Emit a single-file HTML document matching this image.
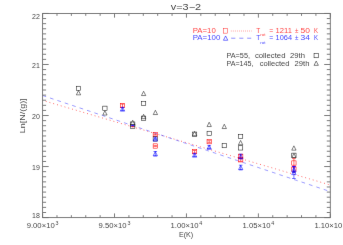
<!DOCTYPE html><html><head><meta charset="utf-8"><title>v=3-2</title><style>html,body{margin:0;padding:0;background:#fff;overflow:hidden}svg text{font-family:"Liberation Sans",sans-serif}svg{opacity:0.999}</style></head><body><svg width="343" height="245" viewBox="0 0 343 245" style="display:block;font-family:'Liberation Sans',sans-serif">
<defs><filter id="b" x="0" y="0" width="343" height="245" filterUnits="userSpaceOnUse"><feConvolveMatrix order="3" kernelMatrix="0.00163 0.03713 0.00163 0.03713 0.84497 0.03713 0.00163 0.03713 0.00163" edgeMode="duplicate" preserveAlpha="false"/></filter></defs>
<rect width="343" height="245" fill="#fff"/>
<g filter="url(#b)">
<line x1="42.6" y1="100.4" x2="330.3" y2="185.0" stroke="#ff3030" stroke-width="0.75" stroke-dasharray="0.9 3.02" stroke-dashoffset="0.67"/>
<line x1="42.6" y1="95.5" x2="330.3" y2="191.6" stroke="#3a3aff" stroke-width="0.5" stroke-dasharray="3.7 4.1"/>
<g stroke="#6e6e6e" stroke-width="0.9" fill="none">
<rect x="42.6" y="13.45" width="287.70" height="204.15"/>
<path d="M42.60 217.6v-4.2M42.60 13.45v4.2M56.98 217.6v-2.4M56.98 13.45v2.4M71.37 217.6v-2.4M71.37 13.45v2.4M85.75 217.6v-2.4M85.75 13.45v2.4M100.14 217.6v-2.4M100.14 13.45v2.4M114.53 217.6v-4.2M114.53 13.45v4.2M128.91 217.6v-2.4M128.91 13.45v2.4M143.29 217.6v-2.4M143.29 13.45v2.4M157.68 217.6v-2.4M157.68 13.45v2.4M172.06 217.6v-2.4M172.06 13.45v2.4M186.45 217.6v-4.2M186.45 13.45v4.2M200.84 217.6v-2.4M200.84 13.45v2.4M215.22 217.6v-2.4M215.22 13.45v2.4M229.60 217.6v-2.4M229.60 13.45v2.4M243.99 217.6v-2.4M243.99 13.45v2.4M258.38 217.6v-4.2M258.38 13.45v4.2M272.76 217.6v-2.4M272.76 13.45v2.4M287.14 217.6v-2.4M287.14 13.45v2.4M301.53 217.6v-2.4M301.53 13.45v2.4M315.92 217.6v-2.4M315.92 13.45v2.4M330.30 217.6v-4.2M330.30 13.45v4.2M42.6 217.60h6.1M330.3 217.60h-6.1M42.6 212.50h3.5M330.3 212.50h-3.5M42.6 207.39h3.5M330.3 207.39h-3.5M42.6 202.29h3.5M330.3 202.29h-3.5M42.6 197.19h3.5M330.3 197.19h-3.5M42.6 192.08h3.5M330.3 192.08h-3.5M42.6 186.98h3.5M330.3 186.98h-3.5M42.6 181.87h3.5M330.3 181.87h-3.5M42.6 176.77h3.5M330.3 176.77h-3.5M42.6 171.67h3.5M330.3 171.67h-3.5M42.6 166.56h6.1M330.3 166.56h-6.1M42.6 161.46h3.5M330.3 161.46h-3.5M42.6 156.36h3.5M330.3 156.36h-3.5M42.6 151.25h3.5M330.3 151.25h-3.5M42.6 146.15h3.5M330.3 146.15h-3.5M42.6 141.04h3.5M330.3 141.04h-3.5M42.6 135.94h3.5M330.3 135.94h-3.5M42.6 130.84h3.5M330.3 130.84h-3.5M42.6 125.73h3.5M330.3 125.73h-3.5M42.6 120.63h3.5M330.3 120.63h-3.5M42.6 115.53h6.1M330.3 115.53h-6.1M42.6 110.42h3.5M330.3 110.42h-3.5M42.6 105.32h3.5M330.3 105.32h-3.5M42.6 100.21h3.5M330.3 100.21h-3.5M42.6 95.11h3.5M330.3 95.11h-3.5M42.6 90.01h3.5M330.3 90.01h-3.5M42.6 84.90h3.5M330.3 84.90h-3.5M42.6 79.80h3.5M330.3 79.80h-3.5M42.6 74.69h3.5M330.3 74.69h-3.5M42.6 69.59h3.5M330.3 69.59h-3.5M42.6 64.49h6.1M330.3 64.49h-6.1M42.6 59.38h3.5M330.3 59.38h-3.5M42.6 54.28h3.5M330.3 54.28h-3.5M42.6 49.18h3.5M330.3 49.18h-3.5M42.6 44.07h3.5M330.3 44.07h-3.5M42.6 38.97h3.5M330.3 38.97h-3.5M42.6 33.86h3.5M330.3 33.86h-3.5M42.6 28.76h3.5M330.3 28.76h-3.5M42.6 23.66h3.5M330.3 23.66h-3.5M42.6 18.55h3.5M330.3 18.55h-3.5M42.6 13.45h6.1M330.3 13.45h-6.1"/>
</g>
<g fill="none" stroke-width="0.55">
<rect x="76.35" y="86.25" width="4.3" height="4.3" stroke="#1c1c1c"/>
<path d="M76.35 94.85L78.50 90.55L80.65 94.85Z" stroke="#1c1c1c"/>
<rect x="102.75" y="106.15" width="4.3" height="4.3" stroke="#1c1c1c"/>
<path d="M102.75 115.05L104.90 110.75L107.05 115.05Z" stroke="#1c1c1c"/>
<rect x="120.35" y="103.45" width="4.3" height="4.3" stroke="#f00"/>
<path d="M122.50 104.10V107.10M120.70 104.10h3.6M120.70 107.10h3.6" stroke="#f00"/>
<path d="M120.35 111.15L122.50 106.85L124.65 111.15Z" stroke="#00f"/>
<path d="M122.50 107.50V110.50M120.70 107.50h3.6M120.70 110.50h3.6" stroke="#00f"/>
<path d="M130.55 124.55L132.70 120.25L134.85 124.55Z" stroke="#1c1c1c"/>
<rect x="130.55" y="121.95" width="4.3" height="4.3" stroke="#1c1c1c"/>
<rect x="130.55" y="124.25" width="4.3" height="4.3" stroke="#1c1c1c"/>
<path d="M141.45 95.55L143.60 91.25L145.75 95.55Z" stroke="#1c1c1c"/>
<rect x="141.45" y="101.40" width="4.3" height="4.3" stroke="#1c1c1c"/>
<path d="M141.45 118.65L143.60 114.35L145.75 118.65Z" stroke="#1c1c1c"/>
<rect x="141.45" y="116.10" width="4.3" height="4.3" stroke="#1c1c1c"/>
<path d="M153.25 114.55L155.40 110.25L157.55 114.55Z" stroke="#1c1c1c"/>
<rect x="153.15" y="132.45" width="4.3" height="4.3" stroke="#f00"/>
<path d="M155.30 134.10V135.10M153.50 134.10h3.6M153.50 135.10h3.6" stroke="#f00"/>
<rect x="153.15" y="136.75" width="4.3" height="4.3" stroke="#1c1c1c"/>
<path d="M153.15 141.05L155.30 136.75L157.45 141.05Z" stroke="#00f"/>
<path d="M155.30 137.90V139.90M153.50 137.90h3.6M153.50 139.90h3.6" stroke="#00f"/>
<rect x="153.15" y="143.85" width="4.3" height="4.3" stroke="#f00"/>
<path d="M155.30 145.70V146.30M153.50 145.70h3.6M153.50 146.30h3.6" stroke="#f00"/>
<path d="M153.15 155.85L155.30 151.55L157.45 155.85Z" stroke="#00f"/>
<path d="M155.30 151.50V155.90M153.50 151.50h3.6M153.50 155.90h3.6" stroke="#00f"/>
<path d="M192.45 135.65L194.60 131.35L196.75 135.65Z" stroke="#1c1c1c"/>
<rect x="192.45" y="132.05" width="4.3" height="4.3" stroke="#1c1c1c"/>
<rect x="192.45" y="149.55" width="4.3" height="4.3" stroke="#f00"/>
<path d="M194.60 150.50V152.90M192.80 150.50h3.6M192.80 152.90h3.6" stroke="#f00"/>
<path d="M192.45 157.15L194.60 152.85L196.75 157.15Z" stroke="#00f"/>
<path d="M194.60 153.50V156.50M192.80 153.50h3.6M192.80 156.50h3.6" stroke="#00f"/>
<path d="M207.05 126.55L209.20 122.25L211.35 126.55Z" stroke="#1c1c1c"/>
<rect x="207.05" y="131.25" width="4.3" height="4.3" stroke="#1c1c1c"/>
<rect x="207.05" y="139.55" width="4.3" height="4.3" stroke="#f00"/>
<path d="M209.20 140.70V142.70M207.40 140.70h3.6M207.40 142.70h3.6" stroke="#f00"/>
<path d="M207.05 149.25L209.20 144.95L211.35 149.25Z" stroke="#00f"/>
<path d="M209.20 145.60V148.60M207.40 145.60h3.6M207.40 148.60h3.6" stroke="#00f"/>
<path d="M222.15 128.55L224.30 124.25L226.45 128.55Z" stroke="#1c1c1c"/>
<rect x="222.15" y="143.45" width="4.3" height="4.3" stroke="#1c1c1c"/>
<rect x="238.45" y="134.35" width="4.3" height="4.3" stroke="#1c1c1c"/>
<path d="M238.45 144.75L240.60 140.45L242.75 144.75Z" stroke="#1c1c1c"/>
<rect x="238.45" y="145.75" width="4.3" height="4.3" stroke="#1c1c1c"/>
<rect x="238.55" y="154.15" width="4.3" height="4.3" stroke="#f00"/>
<path d="M240.70 154.80V157.80M238.90 154.80h3.6M238.90 157.80h3.6" stroke="#f00"/>
<rect x="238.55" y="157.65" width="4.3" height="4.3" stroke="#f00"/>
<path d="M240.70 158.30V161.30M238.90 158.30h3.6M238.90 161.30h3.6" stroke="#f00"/>
<path d="M238.55 158.65L240.70 154.35L242.85 158.65Z" stroke="#00f"/>
<path d="M240.70 154.10V158.90M238.90 154.10h3.6M238.90 158.90h3.6" stroke="#00f"/>
<path d="M238.55 169.65L240.70 165.35L242.85 169.65Z" stroke="#00f"/>
<path d="M240.70 165.20V169.80M238.90 165.20h3.6M238.90 169.80h3.6" stroke="#00f"/>
<path d="M291.75 150.15L293.90 145.85L296.05 150.15Z" stroke="#1c1c1c"/>
<rect x="291.75" y="153.15" width="4.3" height="4.3" stroke="#1c1c1c"/>
<path d="M291.75 157.75L293.90 153.45L296.05 157.75Z" stroke="#1c1c1c"/>
<rect x="291.75" y="160.85" width="4.3" height="4.3" stroke="#f00"/>
<path d="M293.90 158.60V167.40M292.10 158.60h3.6M292.10 167.40h3.6" stroke="#f00"/>
<rect x="291.75" y="166.85" width="4.3" height="4.3" stroke="#f00"/>
<path d="M293.90 166.00V172.00M292.10 166.00h3.6M292.10 172.00h3.6" stroke="#f00"/>
<path d="M291.75 171.65L293.90 167.35L296.05 171.65Z" stroke="#00f"/>
<path d="M293.90 166.50V172.50M292.10 166.50h3.6M292.10 172.50h3.6" stroke="#00f"/>
<path d="M291.75 174.65L293.90 170.35L296.05 174.65Z" stroke="#00f"/>
<path d="M293.90 166.50V178.50M292.10 166.50h3.6M292.10 178.50h3.6" stroke="#00f"/>
<path d="M131.2 125.4h3" stroke="#00f" stroke-width="0.9"/><path d="M131.4 126.7h2.6" stroke="#f00" stroke-width="0.7"/>
<rect x="223.45" y="28.65" width="4.1" height="4.5" stroke="#ff2a2a" stroke-width="0.5"/>
<path d="M223.45 40.25L225.60 35.95L227.75 40.25Z" stroke="#00f"/>
<rect x="314.05" y="53.45" width="4.3" height="4.3" stroke="#1c1c1c"/>
<path d="M314.05 65.35L316.20 61.05L318.35 65.35Z" stroke="#1c1c1c"/>
</g>
<line x1="230.9" y1="31" x2="251.6" y2="31" stroke="#ff4545" stroke-width="0.8" stroke-dasharray="0.6 1.43"/>
<path d="M231.2 38.2h4.1M239.3 38.2h4M247.2 38.2h4" stroke="#2020ff" stroke-width="0.5"/>
<text x="170.8" y="9.6" font-size="8.7" fill="#484848" text-anchor="start" textLength="30.3" lengthAdjust="spacingAndGlyphs">v=3&#8722;2</text>
<text x="32.1" y="19.0" font-size="7.0" fill="#484848" text-anchor="start" textLength="7.8" lengthAdjust="spacingAndGlyphs">22</text>
<text x="32.1" y="67.8" font-size="7.0" fill="#484848" text-anchor="start" textLength="7.8" lengthAdjust="spacingAndGlyphs">21</text>
<text x="32.1" y="118.8" font-size="7.0" fill="#484848" text-anchor="start" textLength="7.8" lengthAdjust="spacingAndGlyphs">20</text>
<text x="32.1" y="169.8" font-size="7.0" fill="#484848" text-anchor="start" textLength="7.8" lengthAdjust="spacingAndGlyphs">19</text>
<text x="32.1" y="217.9" font-size="7.0" fill="#484848" text-anchor="start" textLength="7.8" lengthAdjust="spacingAndGlyphs">18</text>
<text x="26.7" y="228.4" font-size="7.0" fill="#484848" text-anchor="start" textLength="28.0" lengthAdjust="spacingAndGlyphs">9.00&#215;10</text>
<text x="55.5" y="224.8" font-size="4.9" fill="#484848" text-anchor="start" textLength="3.0" lengthAdjust="spacingAndGlyphs">3</text>
<text x="98.6" y="228.4" font-size="7.0" fill="#484848" text-anchor="start" textLength="28.0" lengthAdjust="spacingAndGlyphs">9.50&#215;10</text>
<text x="127.4" y="224.8" font-size="4.9" fill="#484848" text-anchor="start" textLength="3.0" lengthAdjust="spacingAndGlyphs">3</text>
<text x="170.5" y="228.4" font-size="7.0" fill="#484848" text-anchor="start" textLength="28.0" lengthAdjust="spacingAndGlyphs">1.00&#215;10</text>
<text x="199.3" y="224.8" font-size="4.9" fill="#484848" text-anchor="start" textLength="3.0" lengthAdjust="spacingAndGlyphs">4</text>
<text x="242.5" y="228.4" font-size="7.0" fill="#484848" text-anchor="start" textLength="28.0" lengthAdjust="spacingAndGlyphs">1.05&#215;10</text>
<text x="271.3" y="224.8" font-size="4.9" fill="#484848" text-anchor="start" textLength="3.0" lengthAdjust="spacingAndGlyphs">4</text>
<text x="314.4" y="228.4" font-size="7.0" fill="#484848" text-anchor="start" textLength="28.0" lengthAdjust="spacingAndGlyphs">1.10&#215;10</text>
<text x="343.2" y="224.8" font-size="4.9" fill="#484848" text-anchor="start" textLength="3.0" lengthAdjust="spacingAndGlyphs">4</text>
<text x="178.9" y="237.1" font-size="7.0" fill="#484848" text-anchor="start" textLength="14.3" lengthAdjust="spacingAndGlyphs">E(K)</text>
<text transform="translate(24.6 133.2) rotate(-90)" font-size="7.0" fill="#484848" textLength="34.8" lengthAdjust="spacingAndGlyphs">Ln[N/(g)]</text>
<text x="192.7" y="32.7" font-size="7.0" fill="#ff4848" text-anchor="start" textLength="23.1" lengthAdjust="spacingAndGlyphs">PA=10</text>
<text x="192.7" y="40.2" font-size="7.0" fill="#4848ff" text-anchor="start" textLength="27.7" lengthAdjust="spacingAndGlyphs">PA=100</text>
<text x="256.3" y="32.7" font-size="7.0" fill="#ff4848" text-anchor="start" textLength="4.0" lengthAdjust="spacingAndGlyphs">T</text>
<text x="260.3" y="36.4" font-size="3.9" fill="#ff4848" text-anchor="start" textLength="5.3" lengthAdjust="spacingAndGlyphs">rot</text>
<text x="269.3" y="32.7" font-size="7.0" fill="#ff4848" text-anchor="start" textLength="4.0" lengthAdjust="spacingAndGlyphs">=</text>
<text x="275.6" y="32.7" font-size="7.0" fill="#ff4848" text-anchor="start" textLength="16.4" lengthAdjust="spacingAndGlyphs">1211</text>
<text x="295.0" y="32.7" font-size="7.0" fill="#ff4848" text-anchor="start" textLength="3.4" lengthAdjust="spacingAndGlyphs">&#177;</text>
<text x="300.6" y="32.7" font-size="7.0" fill="#ff4848" text-anchor="start" textLength="9.4" lengthAdjust="spacingAndGlyphs">50</text>
<text x="314.1" y="32.7" font-size="7.0" fill="#ff4848" text-anchor="start" textLength="4.0" lengthAdjust="spacingAndGlyphs">K</text>
<text x="256.3" y="40.2" font-size="7.0" fill="#4848ff" text-anchor="start" textLength="4.0" lengthAdjust="spacingAndGlyphs">T</text>
<text x="260.3" y="44.3" font-size="3.9" fill="#4848ff" text-anchor="start" textLength="5.3" lengthAdjust="spacingAndGlyphs">rot</text>
<text x="269.3" y="40.2" font-size="7.0" fill="#4848ff" text-anchor="start" textLength="4.0" lengthAdjust="spacingAndGlyphs">=</text>
<text x="275.6" y="40.2" font-size="7.0" fill="#4848ff" text-anchor="start" textLength="16.4" lengthAdjust="spacingAndGlyphs">1064</text>
<text x="295.0" y="40.2" font-size="7.0" fill="#4848ff" text-anchor="start" textLength="3.4" lengthAdjust="spacingAndGlyphs">&#177;</text>
<text x="300.6" y="40.2" font-size="7.0" fill="#4848ff" text-anchor="start" textLength="9.4" lengthAdjust="spacingAndGlyphs">34</text>
<text x="314.1" y="40.2" font-size="7.0" fill="#4848ff" text-anchor="start" textLength="4.0" lengthAdjust="spacingAndGlyphs">K</text>
<text x="226.4" y="58.2" font-size="7.0" fill="#484848" text-anchor="start" textLength="23.6" lengthAdjust="spacingAndGlyphs">PA=55,</text>
<text x="254.9" y="58.2" font-size="7.0" fill="#484848" text-anchor="start" textLength="30.6" lengthAdjust="spacingAndGlyphs">collected</text>
<text x="290.1" y="58.2" font-size="7.0" fill="#484848" text-anchor="start" textLength="14.9" lengthAdjust="spacingAndGlyphs">29th</text>
<text x="226.4" y="65.6" font-size="7.0" fill="#484848" text-anchor="start" textLength="27.1" lengthAdjust="spacingAndGlyphs">PA=145,</text>
<text x="259.7" y="65.6" font-size="7.0" fill="#484848" text-anchor="start" textLength="29.8" lengthAdjust="spacingAndGlyphs">collected</text>
<text x="294.5" y="65.6" font-size="7.0" fill="#484848" text-anchor="start" textLength="14.9" lengthAdjust="spacingAndGlyphs">29th</text>
</g>
</svg></body></html>
